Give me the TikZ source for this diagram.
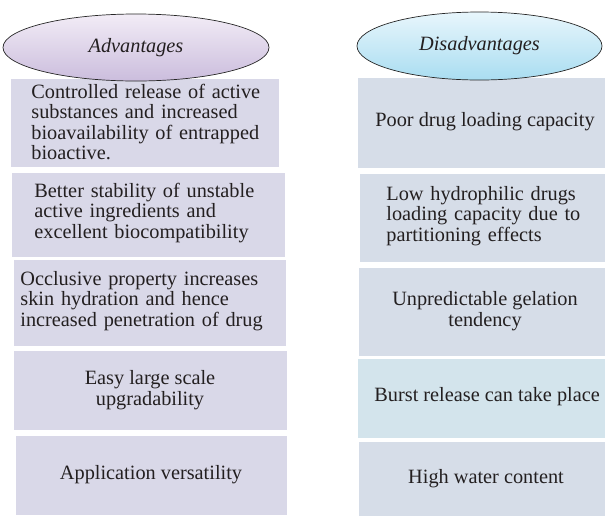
\documentclass[tikz,border=0pt]{standalone}
\usepackage{fontspec}
\setmainfont{Liberation Serif}
\definecolor{lbox}{HTML}{D9D8E8}
\definecolor{rbox}{HTML}{D6DDE8}
\definecolor{rboxb}{HTML}{D3E4EC}
\definecolor{ltop}{HTML}{F2ECF6}
\definecolor{lbot}{HTML}{CBBDDD}
\definecolor{rtop}{HTML}{E8F6FC}
\definecolor{rbot}{HTML}{A9DDF1}
\definecolor{txt}{HTML}{231F20}
\tikzset{
  box/.style={draw=white, line width=0.8pt, inner sep=0pt, text=txt,
    font=\fontsize{20.3}{20.5}\selectfont},
  oval/.style={ellipse, draw=black!85, line width=0.7pt, inner sep=0pt, text=txt,
    font=\fontsize{20.3}{20.5}\selectfont\itshape}
}
\usetikzlibrary{shapes.geometric}
\begin{document}
\begin{tikzpicture}[x=1pt,y=-1pt]
\useasboundingbox (0,0) rectangle (605,515);
% left boxes
\node[box, fill=lbox, minimum width=269pt, minimum height=89pt] (L1) at (144.5,122.5) {};
\node[anchor=west, text width=262pt, align=left, box, draw=none] (L1t) at (31,122) {Controlled release of active\\substances and increased\\bioavailability of entrapped\\bioactive.};
\node[box, fill=lbox, minimum width=274pt, minimum height=85pt] (L2) at (148,214.5) {};
\node[anchor=west, text width=250pt, align=left, box, draw=none] (L2t) at (34,213) {Better stability of unstable\\active ingredients and\\excellent biocompatibility};
\node[box, fill=lbox, minimum width=273pt, minimum height=87pt] (L3) at (149.5,302.5) {};
\node[anchor=west, text width=268pt, align=left, box, draw=none] (L3t) at (20,301) {Occlusive property increases\\skin hydration and hence\\increased penetration of drug};
\node[box, fill=lbox, minimum width=274pt, minimum height=80pt, align=center] (L4) at (150,390) {Easy large scale\\upgradability};
\node[box, fill=lbox, minimum width=272pt, minimum height=80pt] (L5) at (151,475) {Application versatility};
% right boxes
\node[box, fill=rbox, minimum width=250pt, minimum height=91pt, anchor=west] (R1) at (357,122.5) {};
\node[box, draw=none] (R1t) at (485,122) {Poor drug loading capacity};
\node[box, fill=rbox, minimum width=248pt, minimum height=89pt, anchor=west] (R2) at (359,217.5) {};
\node[anchor=west, text width=218pt, align=left, box, draw=none] (R2t) at (386,216) {Low hydrophilic drugs\\loading capacity due to\\partitioning effects};
\node[box, fill=rbox, minimum width=249pt, minimum height=89pt, anchor=west, align=center] (R3) at (358,311.5) {};
\node[box, draw=none, align=center] (R3t) at (485,311) {Unpredictable gelation\\tendency};
\node[box, fill=rboxb, minimum width=250pt, minimum height=80pt, anchor=west] (R4) at (357,398) {};
\node[box, draw=none, anchor=west] (R4t) at (374,397) {Burst release can take place};
\node[box, fill=rbox, minimum width=249pt, minimum height=76pt, anchor=west] (R5) at (358,479) {};
\node[box, draw=none] (R5t) at (486,479) {High water content};
% ovals
\node[oval, top color=ltop, bottom color=lbot, minimum width=266pt, minimum height=67pt] (A) at (136,47.5) {Advantages};
\node[oval, top color=rtop, bottom color=rbot, minimum width=245pt, minimum height=68pt] (D) at (479.5,46) {Disadvantages};
\end{tikzpicture}
\end{document}
